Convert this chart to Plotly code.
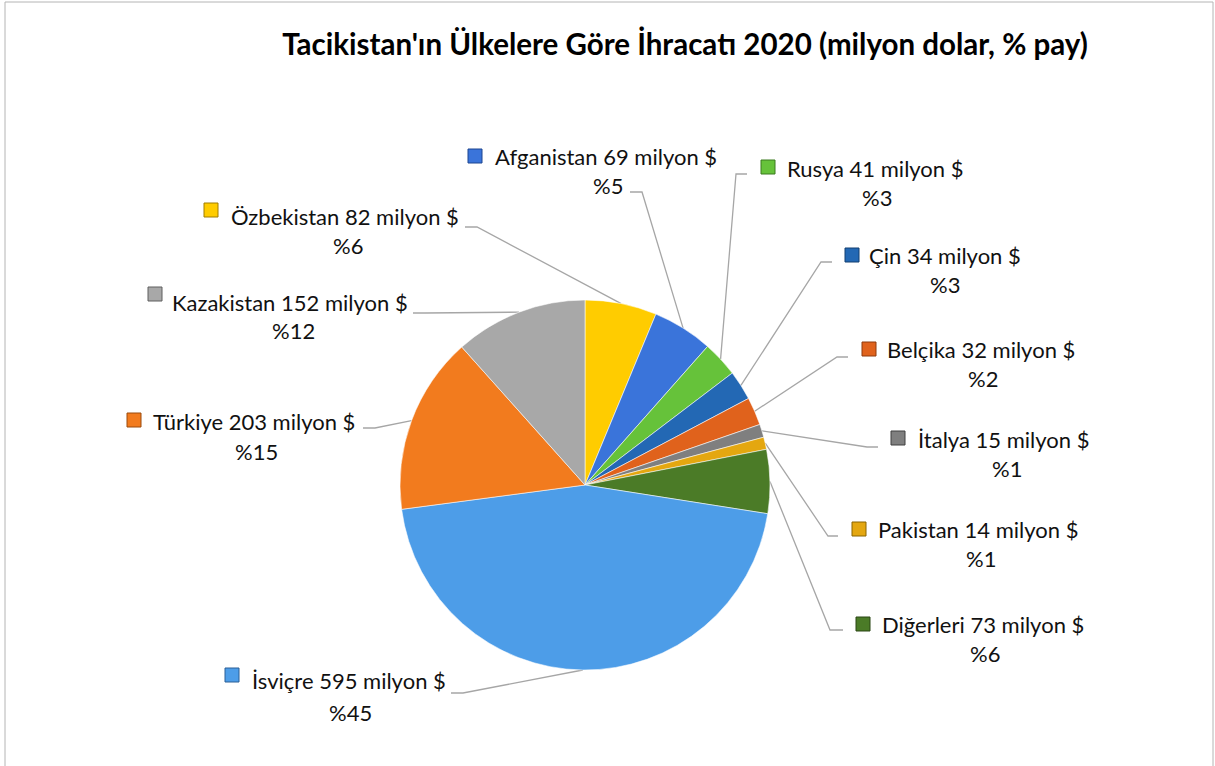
import plotly.graph_objects as go
import math

# ---------------- data ----------------
countries = ["Özbekistan", "Afganistan", "Rusya", "Çin", "Belçika", "İtalya",
             "Pakistan", "Diğerleri", "İsviçre", "Türkiye", "Kazakistan"]
values = [82, 69, 41, 34, 32, 15, 14, 73, 595, 203, 152]
title_text = "Tacikistan'ın Ülkelere Göre İhracatı 2020 (milyon dolar, % pay)"

# ---------------- style / layout ----------------
colors = ["#FFCC00", "#3A74DA", "#66C23A", "#2368B4", "#E0621C", "#7F7F7F",
          "#E4A710", "#4B7B27", "#4D9DE8", "#F27B1E", "#A8A8A8"]
key_border = ["#A07C00", "#1D4590", "#3B7A1E", "#123E70", "#8E3A0C", "#404040",
              "#8A6400", "#2A4714", "#2A5F96", "#9A4A0C", "#5E5E5E"]

W, H = 1215, 766
CX, CY, R = 585, 485, 185   # pie centre / radius in pixels

# label placement (pixels): name-line centre x, name-line y, pct-line centre x, pct y, key centre
label_pos = [
    (345, 216, 348, 245, 211, 210),
    (606, 157, 608, 185, 475, 156),
    (875, 168, 877, 197, 768, 167),
    (945, 255, 945, 284, 852, 255),
    (981, 350, 983, 378, 869, 349),
    (1003, 439, 1007, 468, 898, 438),
    (978, 529, 981, 558, 859, 529),
    (983, 624, 985, 653, 863, 624),
    (349, 680, 351, 712, 232, 675),
    (254, 421, 256, 452, 134, 420),
    (290, 302, 293, 330, 155, 294),
]
# leader line: label-side end and elbow (pixels); the other end is computed from the data
leader_pts = [
    [(465, 227), (477, 227)],
    [(630, 192), (642, 192)],
    [(747, 174), (736, 174)],
    [(832, 262), (821, 262)],
    [(848, 357), (837, 357)],
    [(878, 447), (867, 447)],
    [(838, 536), (828, 536)],
    [(843, 630), (830, 630)],
    [(451, 693), (463, 693)],
    [(363, 428), (375, 428)],
    [(413, 313), (425, 313)],
]

FONT = "Lato, 'Open Sans', sans-serif"
LABEL_SIZE = 22
TITLE_SIZE = 29.5


def px(x):
    return x / W


def py(y):
    return 1 - y / H


total = sum(values)
pcts = [round(v / total * 100) for v in values]

fig = go.Figure(go.Pie(
    labels=countries,
    values=values,
    sort=False,
    direction="clockwise",
    rotation=0,
    marker=dict(colors=colors, line=dict(color="rgba(255,255,255,0.55)", width=1)),
    textinfo="none",
    hoverinfo="label+value+percent",
    domain=dict(x=[px(CX - R), px(CX + R)], y=[py(CY + R), py(CY - R)]),
    showlegend=False,
))

shapes = []
annotations = []

# outer chart border
shapes.append(dict(type="rect", xref="paper", yref="paper",
                   x0=px(5), x1=px(1213), y0=py(790), y1=py(2),
                   line=dict(color="#B4B4B4", width=1), fillcolor="rgba(0,0,0,0)", layer="below"))

cum = 0
for i, (name, v) in enumerate(zip(countries, values)):
    mid = (cum + v / 2) / total * 2 * math.pi
    cum += v
    ex = CX + R * math.sin(mid)
    ey = CY - R * math.cos(mid)
    pts = leader_pts[i] + [(ex, ey)]
    path = "M " + " L ".join(f"{px(x):.5f},{py(y):.5f}" for x, y in pts)
    shapes.append(dict(type="path", xref="paper", yref="paper", path=path,
                       line=dict(color="#A6A6A6", width=1.3), layer="below"))

    nx, ny, pxc, pyc, kx, ky = label_pos[i]
    annotations.append(dict(x=px(nx), y=py(ny), xref="paper", yref="paper",
                            text=f"{name} {v} milyon $", showarrow=False,
                            xanchor="center", yanchor="middle",
                            font=dict(family=FONT, size=LABEL_SIZE, color="#111111")))
    annotations.append(dict(x=px(pxc), y=py(pyc), xref="paper", yref="paper",
                            text=f"%{pcts[i]}", showarrow=False,
                            xanchor="center", yanchor="middle",
                            font=dict(family=FONT, size=LABEL_SIZE, color="#111111")))
    shapes.append(dict(type="rect", xref="paper", yref="paper",
                       x0=px(kx - 7), x1=px(kx + 7), y0=py(ky + 7), y1=py(ky - 7),
                       fillcolor=colors[i], line=dict(color=key_border[i], width=1)))

fig.update_layout(
    width=W, height=H,
    margin=dict(l=0, r=0, t=0, b=0),
    paper_bgcolor="white",
    plot_bgcolor="white",
    title=dict(text=f"<b>{title_text}</b>", x=px(685), xanchor="center",
               y=py(45), yanchor="middle",
               font=dict(family=FONT, size=TITLE_SIZE, color="#000000")),
    shapes=shapes,
    annotations=annotations,
)

fig.write_html("out.html",
               config={"displayModeBar": False},
               post_script="document.body.style.margin='0';document.body.style.overflow='hidden';")
